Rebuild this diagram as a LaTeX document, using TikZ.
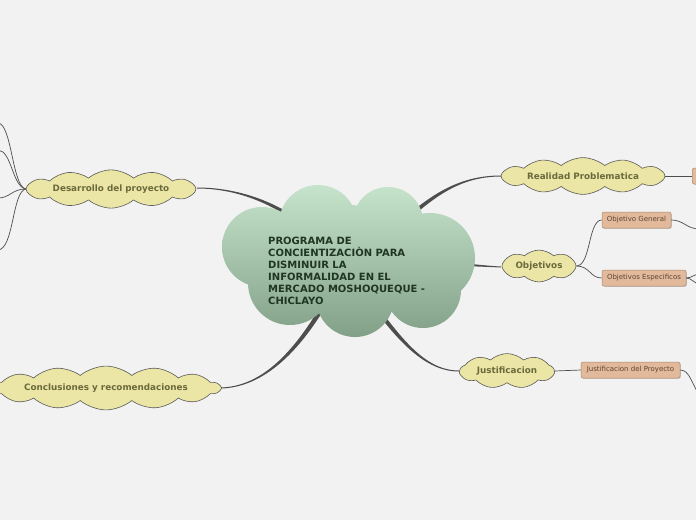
\documentclass[tikz,border=0pt]{standalone}
\usepackage{fontspec}
\setmainfont{DejaVu Sans}
\usetikzlibrary{shapes.symbols,shadows,calc}
\definecolor{bgc}{HTML}{F2F2F2}
\definecolor{cloudfill}{HTML}{EBE6A5}
\definecolor{cloudline}{HTML}{5A5A5A}
\definecolor{cloudtext}{HTML}{6B6A3D}
\definecolor{boxfill}{HTML}{E2B99A}
\definecolor{boxline}{HTML}{A88B72}
\definecolor{boxtext}{HTML}{5B4636}
\definecolor{maintop}{HTML}{C6E4CC}
\definecolor{mainbot}{HTML}{82A088}
\definecolor{maintext}{HTML}{1E3622}
\definecolor{conn}{HTML}{4D4D4D}
\newcommand\taperline[6]{%
  \coordinate (tA0) at ($(#1)!#5!90:(#2)$);
  \coordinate (tB0) at ($(#1)!#5!-90:(#2)$);
  \coordinate (tA3) at ($(#4)!#6!-90:(#3)$);
  \coordinate (tB3) at ($(#4)!#6!90:(#3)$);
  \fill[conn] (tA0) .. controls ($(#2)+(tA0)-(#1)$) and ($(#3)+(tA3)-(#4)$) .. (tA3)
     -- (tB3) .. controls ($(#3)+(tB3)-(#4)$) and ($(#2)+(tB0)-(#1)$) .. (tB0) -- cycle;}
\tikzset{
  ycloud/.style={cloud, cloud puffs=12, cloud puff arc=80, draw=cloudline, line width=0.6pt,
    fill=cloudfill, text=cloudtext, font=\fontsize{8.8}{10}\selectfont\bfseries, inner sep=0pt},
  tanbox/.style={draw=boxline, fill=boxfill, text=boxtext, rounded corners=2pt, line width=0.5pt,
    font=\fontsize{7}{8}\selectfont, inner sep=0pt, minimum height=16pt,
    drop shadow={shadow xshift=0.8pt, shadow yshift=-0.8pt, opacity=0.35}},
  thin/.style={draw=conn, line width=0.7pt},
}
\begin{document}
\begin{tikzpicture}[x=1pt,y=-1pt]
\useasboundingbox (0,0) rectangle (696,520);
\fill[bgc] (0,0) rectangle (696,520);
\clip (0,0) rectangle (696,520);

% tapered main connectors (coordinates)
\coordinate (d0) at (320,240); \coordinate (d1) at (285,205); \coordinate (d2) at (240,188); \coordinate (d3) at (197,188);
\coordinate (r0) at (390,235); \coordinate (r1) at (430,195); \coordinate (r2) at (460,176); \coordinate (r3) at (501,176);
\coordinate (o0) at (420,262); \coordinate (o1) at (460,264); \coordinate (o2) at (480,266); \coordinate (o3) at (501,267);
\coordinate (j0) at (370,300); \coordinate (j1) at (400,340); \coordinate (j2) at (425,371); \coordinate (j3) at (459,371);
\coordinate (c0) at (335,285); \coordinate (c1) at (300,352); \coordinate (c2) at (262,388); \coordinate (c3) at (219,388);
\taperline{d0}{d1}{d2}{d3}{2.2pt}{0.5pt}
\taperline{r0}{r1}{r2}{r3}{2.2pt}{0.5pt}
\taperline{o0}{o1}{o2}{o3}{2.0pt}{0.5pt}
\taperline{j0}{j1}{j2}{j3}{2.2pt}{0.5pt}
\taperline{c0}{c1}{c2}{c3}{2.4pt}{0.5pt}

% main cloud
\shade[top color=maintop, bottom color=mainbot]
  (318,224) circle (39) (388,222) circle (35) (262,247) circle (40)
  (430,258) circle (45) (290,283) circle (42) (355,298) circle (39)
  (423,290) circle (38) (350,255) circle (50);
\node[anchor=north west, align=left, text=maintext, font=\fontsize{10}{12}\selectfont\bfseries, inner sep=0pt]
  (main) at (268,237) {PROGRAMA DE\\CONCIENTIZACIÒN PARA\\DISMINUIR LA\\INFORMALIDAD EN EL\\MERCADO MOSHOQUEQUE -\\CHICLAYO};

% secondary clouds
\node[ycloud, minimum width=170pt, minimum height=24pt, aspect=7] (des) at (111,189) {Desarrollo del proyecto};
\node[ycloud, minimum width=164pt, minimum height=24pt, aspect=7] (real) at (583,176) {Realidad Problematica};
\node[ycloud, cloud puffs=8, cloud puff arc=85, minimum width=74pt, minimum height=26pt, aspect=2.8] (obj) at (539,266) {Objetivos};
\node[ycloud, cloud puffs=9, cloud puff arc=85, minimum width=94pt, minimum height=26pt, aspect=3.4] (jus) at (507,371) {Justificacion};
\node[ycloud, cloud puffs=14, minimum width=224pt, minimum height=24pt, aspect=9] (con) at (106,388) {Conclusiones y recomendaciones};

% boxes
\node[tanbox, minimum width=69pt] (og) at (636.5,220) {Objetivo General};
\node[tanbox, minimum width=84pt] (oe) at (644,278) {Objetivos Especificos};
\node[tanbox, minimum width=99pt] (jp) at (630.5,370) {Justificacion del Proyecto};
\node[tanbox, minimum width=20pt, anchor=west] (rb) at (692,176) {};

% edge coordinates
\coordinate (e1) at (-2,123); \coordinate (e2) at (-2,150); \coordinate (e3) at (-2,198); \coordinate (e4) at (-2,250);
\coordinate (g1) at (700,229); \coordinate (s1) at (700,274); \coordinate (s2) at (700,284); \coordinate (p1) at (700,396);

% thin connectors
\draw[thin] (des.west) .. controls (12,186) and (12,124) .. (e1);
\draw[thin] (des.west) .. controls (12,186) and (12,151) .. (e2);
\draw[thin] (des.west) .. controls (12,189) and (10,198) .. (e3);
\draw[thin] (des.west) .. controls (12,192) and (14,249) .. (e4);
\draw[thin] (real.east) -- (rb.west);
\draw[thin] (obj.east) .. controls (591,266) and (588,220) .. (og.west);
\draw[thin] (obj.east) .. controls (590,266) and (590,278) .. (oe.west);
\draw[thin] (og.east) .. controls (684,220) and (686,229) .. (g1);
\draw[thin] (oe.east) .. controls (692,278) and (694,274) .. (s1);
\draw[thin] (oe.east) .. controls (692,278) and (694,284) .. (s2);
\draw[thin] (jus.east) -- (jp.west);
\draw[thin] (jp.east) .. controls (690,370) and (692,385) .. (p1);
\end{tikzpicture}
\end{document}
